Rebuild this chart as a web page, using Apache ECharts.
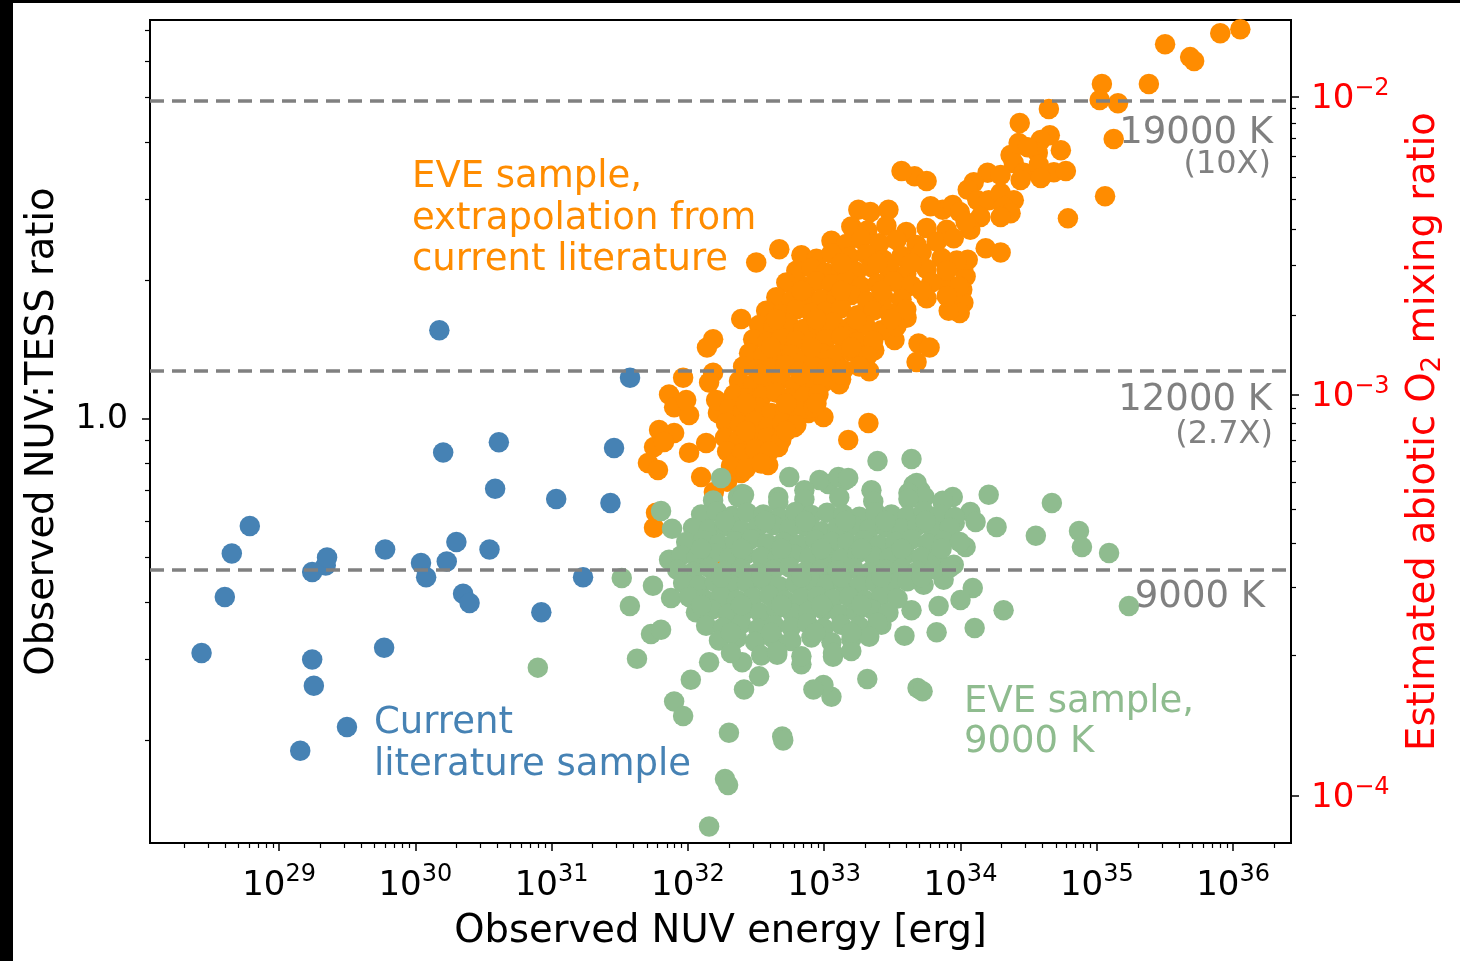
<!DOCTYPE html>
<html>
<head>
<meta charset="utf-8">
<script src="https://cdn.jsdelivr.net/npm/echarts@6/dist/echarts.min.js"></script>
<style>
  html, body { margin: 0; padding: 0; background: #000; }
  #chart { position: absolute; left: 13px; top: 3px; width: 1447px; height: 958px; background: #fff; }
</style>
</head>
<body>
<div id="chart"></div>
<script>
// Flare samples: [observed NUV energy (erg), observed NUV:TESS ratio]
const literaturePoints = [
  [2.7e28, 0.31], [4.0e28, 0.41], [4.5e28, 0.51], [6.1e28, 0.585], [1.43e29, 0.19], [1.75e29, 0.30],
  [1.8e29, 0.263], [1.75e29, 0.465], [2.2e29, 0.48], [2.25e29, 0.50], [3.15e29, 0.214], [6.0e29, 0.52],
  [5.9e29, 0.318], [1.1e30, 0.486], [1.2e30, 0.453], [1.7e30, 0.49], [2.0e30, 0.54], [2.24e30, 0.417],
  [2.5e30, 0.398], [3.5e30, 0.52], [1.5e30, 1.56], [1.6e30, 0.845], [4.1e30, 0.89], [3.85e30, 0.705],
  [8.4e30, 0.38], [1.08e31, 0.67], [1.7e31, 0.453], [2.7e31, 0.657], [2.87e31, 0.865], [3.76e31, 1.23]
];

const eveExtrapolatedPoints = [
  [1.13e36, 7.04], [8.05e35, 6.90], [3.17e35, 6.53], [4.84e35, 6.12], [5.18e35, 6.00], [2.41e35, 5.35],
  [1.09e35, 5.35], [1.05e35, 4.94], [1.43e35, 4.86], [1.33e35, 4.06], [1.15e35, 3.05], [6.14e34, 2.73],
  [4.45e34, 4.72], [2.72e34, 4.40], [4.52e34, 4.14], [2.67e34, 3.98], [3.88e34, 4.04], [5.45e34, 3.84],
  [3.69e34, 3.79], [3.11e34, 3.90], [2.33e34, 3.75], [2.46e34, 3.60], [2.91e34, 3.43], [2.76e34, 3.31],
  [4.84e34, 3.44], [5.93e34, 3.46], [1.58e34, 3.43], [1.25e34, 3.27], [1.13e34, 3.15], [1.33e34, 2.99],
  [1.61e34, 2.99], [1.97e34, 3.10], [2.46e34, 2.99], [2.07e34, 2.89], [2.33e34, 2.80], [1.97e34, 2.75],
  [1.40e34, 2.75], [1.18e34, 2.58], [1.53e34, 2.35], [1.97e34, 2.30], [1.05e34, 2.14], [1.09e34, 2.04],
  [1.03e34, 1.91], [1.05e34, 1.79], [9.87e33, 1.70], [8.19e33, 1.72], [8.05e33, 1.96], [4.60e33, 3.37],
  [5.64e33, 3.29], [3.69e33, 3.46], [7.40e33, 2.85], [8.77e33, 2.92], [6.03e33, 2.90], [1.78e33, 2.85],
  [2.18e33, 2.82], [2.96e33, 2.85], [9.87e33, 2.82], [1.09e34, 2.68], [1.97e34, 3.39], [3.75e34, 3.57],
  [3.88e34, 3.34],
  [2.46e32, 1.65], [1.53e32, 1.49], [1.38e32, 1.43], [9.22e31, 1.23], [7.27e31, 1.13], [7.92e31, 1.06],
  [1.02e32, 1.02], [9.71e31, 1.10], [1.53e32, 1.26], [1.43e32, 1.20], [1.66e32, 1.03], [1.61e32, 1.10],
  [6.14e31, 0.946], [7.92e31, 0.932], [5.64e31, 0.869], [6.68e31, 0.891], [5.09e31, 0.802], [6.03e31, 0.775],
  [1.02e32, 0.844], [1.36e32, 0.887], [2.46e32, 0.763], [2.58e32, 0.814], [3.88e32, 0.794], [4.60e32, 0.869],
  [9.87e32, 1.01], [1.50e33, 0.90], [2.11e33, 0.98], [2.14e33, 1.27], [2.33e33, 1.41], [3.28e33, 1.485],
  [4.92e33, 1.46], [5.93e33, 1.43], [4.76e33, 1.33], [4.02e33, 1.66], [3.82e33, 1.91], [5.64e33, 1.83],
  [9.71e33, 1.94], [1.13e34, 2.22], [1.33e33, 1.22], [7.65e32, 1.03], [6.03e32, 0.96], [1.25e32, 0.748],
  [1.55e32, 0.694], [5.83e31, 0.625], [5.64e31, 0.58], [3.17e32, 2.19], [4.68e32, 2.34], [1.94e32, 0.73],
  [1.97e32, 0.377], [1.55e32, 0.479],
  [1.58e33, 2.62], [2.07e33, 2.57], [2.86e33, 2.63], [4.0e33, 2.55], [5.64e33, 2.60], [7.92e33, 2.58],
  [1.13e33, 2.44], [1.45e33, 2.40], [1.87e33, 2.46], [2.54e33, 2.41], [3.39e33, 2.45], [4.76e33, 2.39],
  [6.68e33, 2.43], [8.92e33, 2.47],
  [6.80e32, 2.27], [8.77e32, 2.23], [1.13e33, 2.29], [1.53e33, 2.25], [2.04e33, 2.28], [2.72e33, 2.22],
  [3.69e33, 2.26], [5.18e33, 2.30], [7.27e33, 2.24], [9.38e33, 2.21],
  [6.24e32, 2.10], [8.05e32, 2.13], [1.03e33, 2.08], [1.33e33, 2.12], [1.72e33, 2.09], [2.22e33, 2.14],
  [3.01e33, 2.11], [4.0e33, 2.07], [5.64e33, 2.12], [7.92e33, 2.10],
  [5.27e32, 1.98], [6.80e32, 1.95], [8.77e32, 1.99], [1.13e33, 1.96], [1.45e33, 2.00], [1.87e33, 1.94],
  [2.46e33, 1.97], [3.22e33, 1.99], [4.37e33, 1.95], [6.14e33, 1.98],
  [4.45e32, 1.84], [5.73e32, 1.81], [7.40e32, 1.85], [9.54e32, 1.82], [1.23e33, 1.83], [1.58e33, 1.86],
  [2.07e33, 1.80], [2.72e33, 1.84], [3.69e33, 1.82], [7.92e33, 1.85],
  [3.75e32, 1.72], [4.84e32, 1.69], [6.24e32, 1.73], [8.05e32, 1.70], [1.03e33, 1.71], [1.33e33, 1.74],
  [1.75e33, 1.68], [2.29e33, 1.72], [3.01e33, 1.70], [4.0e33, 1.73],
  [3.33e32, 1.60], [4.23e32, 1.58], [5.45e32, 1.61], [7.03e32, 1.57], [9.07e32, 1.59], [1.16e33, 1.62],
  [1.53e33, 1.58], [2.0e33, 1.60], [2.63e33, 1.56], [3.39e33, 1.59],
  [3.01e32, 1.49], [3.82e32, 1.47], [4.84e32, 1.50], [6.24e32, 1.48], [8.05e32, 1.46], [1.03e33, 1.49],
  [1.33e33, 1.51], [1.75e33, 1.47], [2.29e33, 1.48],
  [2.81e32, 1.39], [3.57e32, 1.37], [4.52e32, 1.40], [5.73e32, 1.38], [7.40e32, 1.36], [9.54e32, 1.39],
  [1.23e33, 1.38], [1.58e33, 1.40], [2.07e33, 1.37],
  [2.54e32, 1.30], [3.22e32, 1.28], [4.08e32, 1.29], [5.18e32, 1.31], [6.57e32, 1.27], [8.33e32, 1.30],
  [1.05e33, 1.29], [1.38e33, 1.28], [1.81e33, 1.30],
  [2.37e32, 1.21], [3.01e32, 1.19], [3.82e32, 1.20], [4.84e32, 1.22], [6.14e32, 1.18], [7.78e32, 1.21],
  [9.87e32, 1.20], [1.29e33, 1.19],
  [2.18e32, 1.13], [2.76e32, 1.11], [3.50e32, 1.12], [4.45e32, 1.14], [5.64e32, 1.11], [7.15e32, 1.12],
  [9.07e32, 1.13],
  [2.0e32, 1.05], [2.54e32, 1.04], [3.22e32, 1.06], [4.08e32, 1.03], [5.18e32, 1.05], [6.57e32, 1.04],
  [8.33e32, 1.06],
  [1.90e32, 0.98], [2.41e32, 0.97], [3.06e32, 0.99], [3.88e32, 0.96], [4.92e32, 0.98], [6.24e32, 0.97],
  [1.87e32, 0.91], [2.37e32, 0.90], [3.01e32, 0.92], [3.82e32, 0.91], [4.84e32, 0.90],
  [1.94e32, 0.85], [2.46e32, 0.84], [3.11e32, 0.86], [3.95e32, 0.85],
  [2.07e32, 0.79], [2.67e32, 0.78], [3.45e32, 0.80],
  [1.33e33, 2.18], [2.46e33, 2.18], [4.37e33, 2.18],
  [6.80e32, 1.90], [1.33e33, 1.90], [2.63e33, 1.90], [5.18e33, 1.90],
  [4.45e32, 1.65], [8.77e32, 1.65], [1.72e33, 1.65], [3.11e33, 1.65],
  [4.08e32, 1.43], [8.05e32, 1.43], [1.58e33, 1.43],
  [3.45e32, 1.25], [6.80e32, 1.25], [1.33e33, 1.25],
  [2.67e32, 1.08], [5.27e32, 1.08], [8.77e32, 1.08],
  [2.67e32, 0.942], [5.27e32, 0.942]
];

const eve9000Points = [
  [1.43e32, 0.130], [1.87e32, 0.165], [1.97e32, 0.160], [2.0e32, 0.208], [4.92e32, 0.204], [5.0e32, 0.200],
  [7.92e31, 0.243], [9.22e31, 0.226], [1.05e32, 0.271], [4.23e31, 0.301], [3.27e31, 0.451], [3.75e31, 0.392],
  [5.54e31, 0.434], [6.35e31, 0.631], [7.65e31, 0.577], [5.36e31, 0.341], [6.35e31, 0.348], [7.92e30, 0.288],
  [1.75e32, 0.744], [2.50e32, 0.687], [2.46e33, 0.810], [4.37e33, 0.818], [1.43e33, 0.737], [1.07e33, 0.722],
  [4.52e33, 0.719], [5.09e33, 0.697], [7.40e33, 0.660], [8.77e33, 0.677], [1.61e34, 0.684], [4.68e34, 0.657],
  [7.40e34, 0.571], [7.78e34, 0.527], [1.23e35, 0.511], [3.57e34, 0.557], [1.84e34, 0.582], [1.18e34, 0.628],
  [1.29e34, 0.597], [1.09e34, 0.527], [1.23e34, 0.429], [1.0e34, 0.404], [2.07e34, 0.384], [1.27e34, 0.351],
  [1.72e35, 0.392], [9.07e33, 0.594], [7.52e33, 0.447], [6.91e33, 0.392], [4.37e33, 0.384], [6.68e33, 0.344],
  [3.88e33, 0.338], [2.63e33, 0.357], [4.84e33, 0.260], [5.27e33, 0.256], [2.07e33, 0.272], [1.13e33, 0.249],
  [9.87e32, 0.264], [8.33e32, 0.258], [4.52e32, 0.307], [6.80e32, 0.293], [1.16e33, 0.304], [2.58e32, 0.258],
  [2.50e32, 0.296], [1.43e32, 0.296], [3.33e32, 0.276], [7.27e31, 0.494], [7.52e31, 0.408], [8.92e33, 0.482],
  [5.54e32, 0.748], [9.22e32, 0.737], [1.27e33, 0.748], [1.50e33, 0.744], [2.22e33, 0.700], [1.36e32, 0.618],
  [2.33e32, 0.677], [2.58e32, 0.684], [4.60e32, 0.677], [7.15e32, 0.700], [4.76e33, 0.726], [4.15e33, 0.690],
  [5.45e33, 0.677],
  [1.53e32, 0.665], [2.50e32, 0.672], [4.60e32, 0.660], [7.15e32, 0.668], [1.29e33, 0.675], [2.29e33, 0.662],
  [4.15e33, 0.670], [7.40e33, 0.664],
  [1.25e32, 0.62], [1.63e32, 0.63], [2.11e32, 0.615], [2.72e32, 0.625], [3.57e32, 0.62], [4.68e32, 0.61],
  [6.14e32, 0.628], [8.05e32, 0.618], [1.05e33, 0.625], [1.38e33, 0.62], [1.81e33, 0.613], [2.37e33, 0.627],
  [3.11e33, 0.62], [4.08e33, 0.615], [5.36e33, 0.63], [7.03e33, 0.62], [9.07e33, 0.612],
  [1.09e32, 0.58], [1.43e32, 0.575], [1.87e32, 0.585], [2.46e32, 0.572], [3.22e32, 0.58], [4.23e32, 0.588],
  [5.54e32, 0.576], [7.27e32, 0.583], [9.54e32, 0.57], [1.25e33, 0.58], [1.63e33, 0.586], [2.14e33, 0.575],
  [2.81e33, 0.582], [3.69e33, 0.578], [4.84e33, 0.587], [6.35e33, 0.573], [8.33e33, 0.58],
  [9.71e31, 0.54], [1.29e32, 0.545], [1.69e32, 0.535], [2.22e32, 0.542], [2.91e32, 0.548], [3.82e32, 0.536],
  [5.01e32, 0.54], [6.57e32, 0.533], [8.62e32, 0.546], [1.13e33, 0.54], [1.48e33, 0.538], [1.94e33, 0.544],
  [2.54e33, 0.532], [3.33e33, 0.541], [4.37e33, 0.547], [5.73e33, 0.537], [7.52e33, 0.543], [9.87e33, 0.54],
  [8.92e31, 0.505], [1.16e32, 0.50], [1.53e32, 0.51], [2.0e32, 0.498], [2.63e32, 0.506], [3.45e32, 0.502],
  [4.52e32, 0.495], [5.93e32, 0.508], [7.78e32, 0.50], [1.02e33, 0.505], [1.33e33, 0.497], [1.75e33, 0.51],
  [2.29e33, 0.503], [3.01e33, 0.499], [3.95e33, 0.507], [5.18e33, 0.501], [6.80e33, 0.496],
  [8.33e31, 0.47], [1.09e32, 0.465], [1.43e32, 0.475], [1.87e32, 0.468], [2.46e32, 0.472], [3.22e32, 0.463],
  [4.23e32, 0.47], [5.54e32, 0.476], [7.27e32, 0.466], [9.54e32, 0.471], [1.25e33, 0.469], [1.63e33, 0.474],
  [2.14e33, 0.464], [2.81e33, 0.47], [3.69e33, 0.473], [4.84e33, 0.467], [6.35e33, 0.471], [8.33e33, 0.475],
  [9.22e31, 0.44], [1.21e32, 0.435], [1.58e32, 0.442], [2.07e32, 0.436], [2.72e32, 0.44], [3.57e32, 0.445],
  [4.68e32, 0.433], [6.14e32, 0.439], [8.05e32, 0.443], [1.05e33, 0.437], [1.38e33, 0.44], [1.81e33, 0.434],
  [2.37e33, 0.441], [3.11e33, 0.438], [4.08e33, 0.444], [5.36e33, 0.436],
  [1.02e32, 0.41], [1.33e32, 0.405], [1.75e32, 0.412], [2.29e32, 0.404], [3.01e32, 0.409], [3.95e32, 0.414],
  [5.18e32, 0.403], [6.80e32, 0.408], [8.92e32, 0.411], [1.16e33, 0.406], [1.53e33, 0.41], [2.0e33, 0.404],
  [2.63e33, 0.413], [3.45e33, 0.407],
  [1.145e32, 0.38], [1.50e32, 0.385], [1.97e32, 0.377], [2.58e32, 0.383], [3.39e32, 0.379], [4.45e32, 0.386],
  [5.83e32, 0.378], [7.65e32, 0.382], [1.0e33, 0.384], [1.31e33, 0.376], [1.72e33, 0.381], [2.26e33, 0.385],
  [2.96e33, 0.379],
  [1.36e32, 0.355], [1.81e32, 0.352], [2.46e32, 0.358], [3.28e32, 0.35], [4.30e32, 0.356], [5.73e32, 0.353],
  [7.52e32, 0.359], [9.87e32, 0.351], [1.33e33, 0.357], [1.81e33, 0.354], [2.46e33, 0.36],
  [1.69e32, 0.33], [2.29e32, 0.334], [3.11e32, 0.328], [4.23e32, 0.333], [5.73e32, 0.329], [8.05e32, 0.335],
  [1.13e33, 0.327], [1.58e33, 0.332], [2.14e33, 0.336],
  [2.07e32, 0.31], [3.45e32, 0.306], [4.52e32, 0.312], [6.80e32, 0.305], [1.16e33, 0.31], [1.58e33, 0.313],
  [1.87e32, 0.600], [3.69e32, 0.600], [7.27e32, 0.600], [1.43e33, 0.600], [2.81e33, 0.600], [5.54e33, 0.600],
  [1.25e32, 0.522], [2.46e32, 0.522], [4.84e32, 0.522], [9.54e32, 0.522], [1.87e33, 0.522], [3.69e33, 0.522],
  [7.27e33, 0.522],
  [1.75e32, 0.453], [3.45e32, 0.453], [6.80e32, 0.453], [1.33e33, 0.453], [2.63e33, 0.453], [5.18e33, 0.453],
  [1.25e32, 0.394], [2.46e32, 0.394], [4.84e32, 0.394], [9.54e32, 0.394], [1.87e33, 0.394],
  [2.07e32, 0.343], [4.08e32, 0.343], [8.62e32, 0.343], [1.58e33, 0.343]
];

// Flare temperature levels on the NUV:TESS ratio axis
const levelRatios = [4.93, 1.27, 0.47];
const levelNames = ['19000 K', '12000 K', '9000 K'];
const levelFactors = ['(10X)', '(2.7X)', ''];

// Axis ranges and ticks
const energyRange = [1.13e28, 2.66e36];
const ratioRange = [0.1197, 7.37];
const energyExponents = [29, 30, 31, 32, 33, 34, 35, 36];
const ratioMajorTicks = [1];
const ratioMajorLabels = ['1.0'];
const ratioMinorTicks = [0.2, 0.3, 0.4, 0.5, 0.6, 0.7, 0.8, 0.9, 2, 3, 4, 5, 6, 7];
// Estimated abiotic O2 mixing ratio, placed at the NUV:TESS ratio it corresponds to
const o2Exponents = ['\u22122', '\u22123', '\u22124'];
const o2TickRatios = [5.03, 1.13, 0.152];
const o2MinorRatios = [4.74, 4.40, 4.08, 3.73, 3.36, 3.01, 2.59, 2.16, 1.68,
                       1.057, 0.98, 0.90, 0.81, 0.73, 0.637, 0.537, 0.43, 0.307];

const FONT = 'DejaVu Sans';
const MARKER = 20.5;
const energyTicks = energyExponents.map(e => Math.pow(10, e));
const energyMinorTicks = [];
for (let e = 28; e <= 36; e++) {
  for (let k = 2; k <= 9; k++) {
    const v = k * Math.pow(10, e);
    if (v >= energyRange[0] && v <= energyRange[1]) energyMinorTicks.push(v);
  }
}

const tickLine = { color: '#000', width: 1.5 };
const supRich = (color) => ({
  b: { fontSize: 34, fontFamily: FONT, color: color, lineHeight: 40, verticalAlign: 'bottom' },
  s: { fontSize: 24, fontFamily: FONT, color: color, lineHeight: 23, verticalAlign: 'top' }
});

function plainLogAxis(range, position, extra) {
  return Object.assign({
    type: 'log', logBase: 10, min: range[0], max: range[1], position: position,
    axisLine: { show: false, onZero: false },
    splitLine: { show: false }, minorTick: { show: false }, minorSplitLine: { show: false },
    axisLabel: { show: false }, axisTick: { show: false }
  }, extra);
}

function nearestIndex(list, v) {
  let best = 0;
  list.forEach((r, i) => {
    if (Math.abs(Math.log(r) - Math.log(v)) < Math.abs(Math.log(list[best]) - Math.log(v))) best = i;
  });
  return best;
}

const chart = echarts.init(document.getElementById('chart'), null, { renderer: 'canvas' });

const annotation = (x, y, text, color, size, lineHeight, align) => ({
  type: 'text', x: x, y: y, z: 20,
  style: {
    text: text, font: size + 'px "DejaVu Sans"', fill: color, lineHeight: lineHeight,
    align: align, verticalAlign: 'middle', textAlign: align, textVerticalAlign: 'middle'
  }
});

const option = {
  animation: false,
  backgroundColor: '#fff',
  textStyle: { fontFamily: FONT },
  grid: { left: 137, top: 17, width: 1141, height: 823, show: true, borderColor: '#000', borderWidth: 2, backgroundColor: 'transparent' },
  xAxis: [
    plainLogAxis(energyRange, 'bottom', {
      axisTick: { show: true, length: 8, lineStyle: tickLine, customValues: energyTicks },
      axisLabel: {
        show: true, margin: 20, customValues: energyTicks,
        formatter: v => '{b|10}{s|' + Math.round(Math.log10(v)) + '}',
        rich: supRich('#000')
      },
      name: 'Observed NUV energy [erg]', nameLocation: 'middle', nameGap: 69,
      nameTextStyle: { fontSize: 38.5, fontFamily: FONT, color: '#000' }
    }),
    plainLogAxis(energyRange, 'bottom', {
      axisTick: { show: true, length: 5, lineStyle: { color: '#000', width: 1.2 }, customValues: energyMinorTicks }
    })
  ],
  yAxis: [
    plainLogAxis(ratioRange, 'left', {
      axisTick: { show: true, length: 8, lineStyle: tickLine, customValues: ratioMajorTicks },
      axisLabel: {
        show: true, margin: 22, customValues: ratioMajorTicks,
        formatter: v => ratioMajorLabels[nearestIndex(ratioMajorTicks, v)],
        fontSize: 33, fontFamily: FONT, color: '#000'
      },
      name: 'Observed NUV:TESS ratio', nameLocation: 'middle', nameGap: 88, nameRotate: 90,
      nameTextStyle: { fontSize: 38.5, fontFamily: FONT, color: '#000' }
    }),
    plainLogAxis(ratioRange, 'left', {
      axisTick: { show: true, length: 5, lineStyle: { color: '#000', width: 1.2 }, customValues: ratioMinorTicks }
    }),
    plainLogAxis(ratioRange, 'right', {
      axisTick: { show: true, length: 8, lineStyle: tickLine, customValues: o2TickRatios },
      axisLabel: {
        show: true, margin: 20, customValues: o2TickRatios,
        formatter: v => '{b|10}{s|' + o2Exponents[nearestIndex(o2TickRatios, v)] + '}',
        rich: supRich('#ff0000')
      },
      name: 'Estimated abiotic O{sub|2} mixing ratio', nameLocation: 'middle', nameGap: 106, nameRotate: 90,
      nameTextStyle: {
        fontSize: 38.5, fontFamily: FONT, color: '#ff0000', lineHeight: 46,
        rich: { sub: { fontSize: 26, fontFamily: FONT, color: '#ff0000', lineHeight: 26, verticalAlign: 'bottom' } }
      }
    }),
    plainLogAxis(ratioRange, 'right', {
      axisTick: { show: true, length: 5, lineStyle: { color: '#000', width: 1.2 }, customValues: o2MinorRatios }
    })
  ],
  series: [
    {
      name: 'Current literature sample', type: 'scatter', xAxisIndex: 0, yAxisIndex: 0,
      data: literaturePoints, symbol: 'circle', symbolSize: MARKER, z: 2,
      itemStyle: { color: '#4682b4', opacity: 1 }
    },
    {
      name: 'EVE sample, extrapolation from current literature', type: 'scatter', xAxisIndex: 0, yAxisIndex: 0,
      data: eveExtrapolatedPoints, symbol: 'circle', symbolSize: MARKER, z: 3,
      itemStyle: { color: '#ff8c00', opacity: 1 }
    },
    {
      name: 'EVE sample, 9000 K', type: 'scatter', xAxisIndex: 0, yAxisIndex: 0,
      data: eve9000Points, symbol: 'circle', symbolSize: MARKER, z: 4,
      itemStyle: { color: '#8fbc8f', opacity: 1 }
    },
    {
      name: 'levels', type: 'scatter', xAxisIndex: 0, yAxisIndex: 0, data: [], z: 10,
      markLine: {
        silent: true, symbol: ['none', 'none'], label: { show: false }, animation: false,
        lineStyle: { type: [14, 8], color: '#808080', width: 3.7, opacity: 1 },
        data: levelRatios.map(r => ({ yAxis: r }))
      }
    }
  ],
  graphic: [
    annotation(399, 216, 'EVE sample,\nextrapolation from\ncurrent literature', '#ff8c00', 37, 41.5, 'left'),
    annotation(361, 741, 'Current\nliterature sample', '#4682b4', 37, 42, 'left'),
    annotation(951, 719, 'EVE sample,\n9000 K', '#8fbc8f', 37, 40, 'left'),
    annotation(1260, 130, levelNames[0], '#808080', 37, 40, 'right'),
    annotation(1258, 162, levelFactors[0], '#808080', 32, 36, 'right'),
    annotation(1259, 397, levelNames[1], '#808080', 37, 40, 'right'),
    annotation(1260, 432, levelFactors[1], '#808080', 32, 36, 'right'),
    annotation(1252, 594, levelNames[2], '#808080', 37, 40, 'right')
  ]
};

chart.setOption(option);
</script>
</body>
</html>
